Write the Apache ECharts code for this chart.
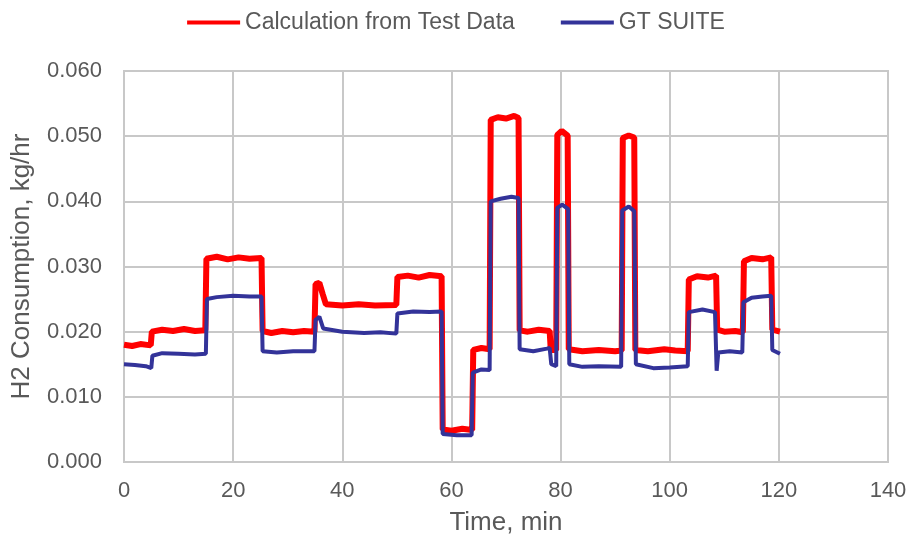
<!DOCTYPE html>
<html>
<head>
<meta charset="utf-8">
<script src="https://cdn.jsdelivr.net/npm/echarts@6/dist/echarts.min.js"></script>
<style>
html,body{margin:0;padding:0;background:#fff;}
#c{width:912px;height:541px;}
</style>
</head>
<body>
<div id="c"></div>
<script>
const seriesNames = ['Calculation from Test Data', 'GT SUITE'];
const xTicks = [0, 20, 40, 60, 80, 100, 120, 140];
const yTicks = [0, 0.01, 0.02, 0.03, 0.04, 0.05, 0.06];

const calcTime = [0,1.5,3,4.9,5.1,7,9,11,13,14.9,15.1,17,19,21,23,25.2,25.4,27,29,31,33,34.9,35.1,35.8,36.4,37,40,43,46,49.9,50.1,52,54,56,58.2,58.4,60,62,63.8,64.0,65.5,67.0,67.2,68.5,70,71.5,72.3,72.5,74,76,78.0,78.2,79.2,79.4,80.2,81.3,81.5,84,87,90,91.2,91.4,92.5,93.5,93.7,96,99,101,103.3,103.5,105,107,108.5,108.7,110,112,113.4,113.6,115,117,118.6,118.8,120.2];
const calcValue = [0.0180,0.0178,0.0181,0.0179,0.0200,0.0203,0.0201,0.0204,0.0201,0.0202,0.0312,0.0315,0.0311,0.0314,0.0312,0.0313,0.0201,0.0198,0.0201,0.0199,0.0201,0.0200,0.0273,0.0275,0.0258,0.0242,0.0240,0.0242,0.0240,0.0241,0.0284,0.0286,0.0283,0.0287,0.0285,0.0050,0.0048,0.0051,0.0049,0.0172,0.0175,0.0173,0.0525,0.0529,0.0527,0.0531,0.0528,0.0202,0.0200,0.0203,0.0201,0.0172,0.0172,0.0502,0.0508,0.0501,0.0173,0.0170,0.0172,0.0170,0.0171,0.0497,0.0501,0.0498,0.0172,0.0170,0.0173,0.0171,0.0170,0.0280,0.0285,0.0283,0.0286,0.0203,0.0200,0.0201,0.0199,0.0308,0.0313,0.0311,0.0314,0.0203,0.0200];

const gtTime = [0,2,4,5.0,5.2,7,10,13,15.0,15.2,17,20,23,25.2,25.4,28,31,34.9,35.1,35.8,36.5,40,44,47,49.9,50.1,53,56,58.2,58.4,61,63.7,63.9,65.5,67.0,67.2,69,71,72.3,72.5,75,77.5,78.0,78.3,79.2,79.4,80.3,81.4,81.6,84,87,91.1,91.3,92.5,93.5,93.8,97,100,103.3,103.5,106,108.3,108.6,108.9,111,113.3,113.5,115,117,118.6,118.8,120.2];
const gtValue = [0.0150,0.0149,0.0147,0.0144,0.0163,0.0167,0.0166,0.0165,0.0166,0.0250,0.0253,0.0255,0.0254,0.0254,0.0170,0.0168,0.0170,0.0170,0.0218,0.0223,0.0205,0.0200,0.0198,0.0199,0.0197,0.0228,0.0231,0.0230,0.0231,0.0043,0.0041,0.0041,0.0137,0.0142,0.0141,0.0400,0.0404,0.0407,0.0405,0.0173,0.0170,0.0174,0.0175,0.0150,0.0147,0.0390,0.0395,0.0388,0.0150,0.0146,0.0147,0.0146,0.0386,0.0392,0.0385,0.0150,0.0144,0.0145,0.0147,0.0230,0.0234,0.0230,0.0140,0.0168,0.0170,0.0168,0.0245,0.0252,0.0254,0.0255,0.0172,0.0166];

const calcData = calcTime.map((t, i) => [t, calcValue[i]]);
const gtData = gtTime.map((t, i) => [t, gtValue[i]]);

const textColor = '#595959';
const gridColor = '#c8c8c8';
const font = 'Liberation Sans, Arial, sans-serif';

const chart = echarts.init(document.getElementById('c'));
chart.setOption({
  animation: false,
  backgroundColor: '#fff',
  textStyle: {fontFamily: font},
  legend: {
    top: 6,
    left: 'center',
    itemWidth: 53,
    itemHeight: 4,
    itemGap: 46,
    icon: 'rect',
    textStyle: {fontSize: 23, color: textColor, fontFamily: font},
    data: seriesNames
  },
  grid: {left: 124, right: 24, top: 71, bottom: 79, containLabel: false, show: true, borderColor: gridColor, borderWidth: 2},
  xAxis: {
    type: 'value',
    min: xTicks[0], max: xTicks[xTicks.length - 1], interval: 20,
    name: 'Time, min', nameLocation: 'middle', nameGap: 48,
    nameTextStyle: {fontSize: 26, color: textColor, fontFamily: font},
    axisLine: {show: true, lineStyle: {color: gridColor, width: 2}},
    axisTick: {show: false},
    axisLabel: {fontSize: 22, color: textColor, margin: 18, fontFamily: font},
    splitLine: {show: true, lineStyle: {color: gridColor, width: 2}}
  },
  yAxis: {
    type: 'value',
    min: yTicks[0], max: yTicks[yTicks.length - 1], interval: 0.01,
    name: 'H2 Consumption, kg/hr', nameLocation: 'middle', nameGap: 89,
    nameTextStyle: {fontSize: 26, color: textColor, fontFamily: font},
    axisLine: {show: true, lineStyle: {color: gridColor, width: 2}},
    axisTick: {show: false},
    axisLabel: {fontSize: 22, color: textColor, margin: 22, fontFamily: font, formatter: v => v.toFixed(3)},
    splitLine: {show: true, lineStyle: {color: gridColor, width: 2}}
  },
  series: [
    {name: seriesNames[0], type: 'line', data: calcData, showSymbol: false, symbol: 'none',
     lineStyle: {color: '#ff0000', width: 6}, itemStyle: {color: '#ff0000'}, z: 2},
    {name: seriesNames[1], type: 'line', data: gtData, showSymbol: false, symbol: 'none',
     lineStyle: {color: '#333399', width: 4}, itemStyle: {color: '#333399'}, z: 3}
  ]
});
</script>
</body>
</html>
